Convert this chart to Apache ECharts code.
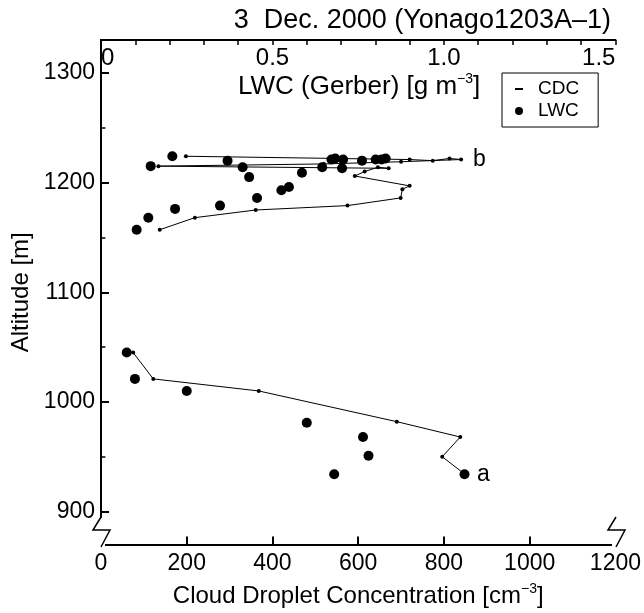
<!DOCTYPE html>
<html>
<head>
<meta charset="utf-8">
<script src="https://cdn.jsdelivr.net/npm/echarts@6/dist/echarts.min.js"></script>
<style>
    html,body{margin:0;padding:0;background:#fff;}
    #chart{width:644px;height:613px;}
</style>
</head>
<body>
<div id="chart"></div>
<script>
    // CDC profile, lower leg (cm^-3 / m)
    const cdcLowConc = [75, 122, 368, 690, 838, 796, 849]
    const cdcLowAlt  = [1045, 1021, 1010, 982, 968, 950, 934]
    // CDC profile, upper leg
    const cdcUpConc = [137, 219, 361, 575, 699, 703, 720, 592, 615, 646, 671, 134, 520, 700, 840, 813, 774, 720, 198]
    const cdcUpAlt  = [1157, 1168, 1175, 1179, 1186, 1194, 1197, 1206, 1210, 1214, 1213, 1215, 1217, 1219, 1221, 1222, 1220, 1221, 1224]
    // LWC (Gerber), g m^-3
    const lwcVal = [0.208, 0.145, 0.369, 0.413, 0.432, 0.548, 0.526, 0.455, 0.347, 0.216, 0.138, 0.104,
                    0.586, 0.645, 0.703, 0.683, 0.706, 0.761, 0.801, 0.830, 0.818, 0.672,
                    0.075, 0.099, 0.250, 0.600, 0.764, 0.780, 0.680, 1.060]
    const lwcAlt = [1224, 1215, 1220, 1214, 1205, 1196, 1193, 1186, 1179, 1176, 1168, 1157,
                    1209, 1214, 1213, 1222, 1221, 1220, 1221, 1222, 1221, 1221,
                    1045, 1021, 1010, 981, 968, 951, 934, 934]
    const altTicks = [900, 1000, 1100, 1200, 1300]
    const altMinor = [950, 1050, 1150, 1250]
    const pointLabels = {low: [6, 'a'], up: [14, 'b']}

    const font = "'Liberation Sans', Arial, sans-serif"
    const black = '#000'

    function toData(xs, ys, lab){
        return xs.map((x, i) => {
            if (lab && lab[0] === i) {
                return {value: [x, ys[i]], label: {show: true, formatter: lab[1], position: 'right', distance: 10,
                        color: black, fontSize: 23, fontFamily: font}}
            }
            return [x, ys[i]]
        })
    }

    const lineSeries = (data) => ({
        name: 'CDC',
        type: 'line',
        xAxisIndex: 0,
        yAxisIndex: 0,
        data: data,
        symbol: 'circle',
        symbolSize: 4,
        showAllSymbol: true,
        itemStyle: {color: black, opacity: 1},
        lineStyle: {color: black, width: 1},
        z: 2
    })

    const supRich = (size) => ({
        n: {fontSize: size, lineHeight: size + 3, fontWeight: 'normal', color: black, fontFamily: font},
        s: {fontSize: 14, lineHeight: 15, fontWeight: 'normal', verticalAlign: 'top', color: black, fontFamily: font}
    })

    const breakMark = (x) => ([
        {type: 'rect', z: 100, shape: {x: x - 4, y: 518, width: 8, height: 28}, style: {fill: '#fff'}},
        {type: 'polyline', z: 101, shape: {points: [[x, 517], [x - 8, 530], [x + 9, 530], [x, 547]]},
            style: {stroke: black, lineWidth: 1.5, fill: null}}
    ])

    const mychart = echarts.init(document.getElementById('chart'))
    mychart.setOption({
        animation: false,
        backgroundColor: '#fff',
        textStyle: {fontFamily: font, color: black},
        title: [
            {
                text: '3  Dec. 2000 (Yonago1203A\u20131)',
                right: 28,
                top: 2,
                textStyle: {fontSize: 27, fontWeight: 'normal', color: black, fontFamily: font}
            },
            {
                text: '{n|LWC (Gerber) [g m}{s|\u22123}{n|]}',
                left: 238,
                top: 72,
                padding: 0,
                textStyle: {fontWeight: 'normal', rich: supRich(26)}
            }
        ],
        legend: {
            left: 502,
            top: 73,
            orient: 'vertical',
            borderColor: black,
            borderWidth: 1,
            borderRadius: 0,
            padding: [6, 19, 6, 13],
            itemGap: 2,
            itemWidth: 8,
            itemHeight: 8,
            data: [{name: 'CDC', icon: 'path://M0,0H6V1.5H0Z'}, {name: 'LWC', icon: 'circle'}],
            textStyle: {fontSize: 19, lineHeight: 20, color: black, fontFamily: font, padding: [0, 0, 0, 10]}
        },
        grid: {left: 101, top: 40, width: 515, height: 508},
        xAxis: [
            {
                type: 'value',
                position: 'bottom',
                min: 0, max: 1200, interval: 200,
                name: '{n|Cloud Droplet Concentration [cm}{s|\u22123}{n|]}',
                nameLocation: 'middle',
                nameGap: 38,
                nameTextStyle: {rich: supRich(24)},
                axisLine: {lineStyle: {color: black, width: 2}},
                axisTick: {inside: true, length: 8, lineStyle: {color: black, width: 2}},
                axisLabel: {fontSize: 23, margin: 8, color: black, fontFamily: font, formatter: v => String(v)},
                splitLine: {show: false}
            },
            {
                type: 'value',
                position: 'top',
                min: 0, max: 1.5, interval: 0.5,
                axisLine: {lineStyle: {color: black, width: 2}},
                axisTick: {inside: true, length: 5, lineStyle: {color: black, width: 1.5}},
                minorTick: {show: true, splitNumber: 5, length: 5, lineStyle: {color: black, width: 1.5}},
                axisLabel: {
                    inside: true, margin: 6, fontSize: 24, color: black, fontFamily: font,
                    alignMinLabel: 'left', alignMaxLabel: 'right',
                    formatter: v => (v === 0 ? '0' : v.toFixed(1))
                },
                splitLine: {show: false}
            }
        ],
        yAxis: [
            {
                type: 'value',
                position: 'left',
                min: 870, max: 1330,
                name: 'Altitude [m]',
                nameLocation: 'middle',
                nameGap: 63,
                nameTextStyle: {fontSize: 24, color: black, fontFamily: font},
                axisLine: {lineStyle: {color: black, width: 2}},
                axisTick: {inside: true, length: 8, customValues: altTicks, lineStyle: {color: black, width: 2}},
                axisLabel: {fontSize: 23, margin: 6, customValues: altTicks, color: black, fontFamily: font,
                    formatter: v => String(v)},
                splitLine: {show: false}
            },
            {
                type: 'value',
                position: 'right',
                min: 870, max: 1330,
                axisLine: {show: true, lineStyle: {color: black, width: 2}},
                axisTick: {show: false},
                axisLabel: {show: false},
                splitLine: {show: false}
            },
            {
                // minor altitude ticks, drawn on the left frame
                type: 'value',
                position: 'right',
                offset: -515,
                min: 870, max: 1330,
                axisLine: {show: false},
                axisTick: {inside: false, length: 5, customValues: altMinor, lineStyle: {color: black, width: 1.5}},
                axisLabel: {show: false},
                splitLine: {show: false}
            }
        ],
        series: [
            lineSeries(toData(cdcLowConc, cdcLowAlt, pointLabels.low)),
            lineSeries(toData(cdcUpConc, cdcUpAlt, pointLabels.up)),
            {
                name: 'LWC',
                type: 'scatter',
                xAxisIndex: 1,
                yAxisIndex: 0,
                data: toData(lwcVal, lwcAlt),
                symbol: 'circle',
                symbolSize: 10,
                itemStyle: {color: black, opacity: 1},
                z: 3
            }
        ],
        graphic: [].concat(breakMark(101), breakMark(616))
    })
</script>
</body>
</html>
